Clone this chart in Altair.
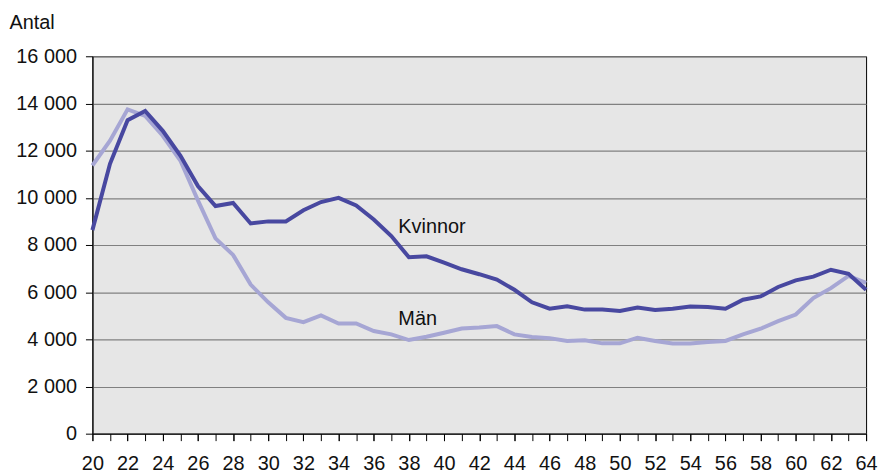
import altair as alt
import pandas as pd

ages = list(range(20, 65))
kvinnor = [8630, 11440, 13290, 13680, 12840, 11790, 10500, 9650, 9780, 8910,
           9000, 9000, 9470, 9820, 10000, 9680, 9080, 8380, 7480, 7520,
           7250, 6970, 6760, 6530, 6100, 5570, 5300, 5400, 5260, 5260,
           5200, 5350, 5240, 5300, 5390, 5370, 5300, 5680, 5820, 6220,
           6500, 6660, 6950, 6780, 6100]
man = [11370, 12420, 13750, 13470, 12630, 11580, 9890, 8280, 7580, 6320,
       5570, 4910, 4730, 5010, 4670, 4670, 4350, 4210, 3970, 4110,
       4280, 4460, 4500, 4560, 4210, 4100, 4050, 3930, 3960, 3830,
       3830, 4070, 3930, 3820, 3820, 3890, 3930, 4210, 4450, 4770,
       5050, 5750, 6170, 6690, 6390]

series_names = ["Män", "Kvinnor"]
series_colors = ["#A6A6D4", "#4848A0"]

label_text = ["Kvinnor", "Män"]
label_x = [37.4, 37.4]
label_y = [8500, 4590]

y_ticks = [0, 2000, 4000, 6000, 8000, 10000, 12000, 14000, 16000]
x_labels = list(range(20, 65, 2))
x_ticks = ages

df = pd.DataFrame({
    "age": ages * 2,
    "value": man + kvinnor,
    "serie": ["Män"] * len(ages) + ["Kvinnor"] * len(ages),
    "order": [0] * len(ages) + [1] * len(ages),
})
lab = pd.DataFrame({"text": label_text, "x": label_x, "y": label_y})

FONT = "Liberation Sans"

x_scale = alt.Scale(domain=[20, 64], nice=False, zero=False)
y_scale = alt.Scale(domain=[0, 16000], nice=False)

y_axis = alt.Axis(
    values=y_ticks, title="Antal", titleAngle=0, titleX=-84, titleY=-28,
    titleAlign="left", titleBaseline="alphabetic", titleFontSize=20,
    titleFontWeight="normal", titleFont=FONT, titleColor="#111",
    labelExpr="replace(format(datum.value, ','), ',', ' ')",
    tickSize=7, tickColor="#000", domainColor="#000",
    labelPadding=9, labelFontSize=20, labelFont=FONT, labelColor="#111",
    gridColor="#808080", gridWidth=1.2)

lines = alt.Chart(df).mark_line(strokeWidth=4, strokeJoin="miter").encode(
    x=alt.X("age:Q", scale=x_scale, axis=alt.Axis(
        values=x_labels, title=None, grid=False, orient="bottom",
        tickSize=7, tickColor="#000", domainColor="#000",
        labelPadding=13, labelFontSize=20, labelFont=FONT, labelColor="#111",
        labelFlush=False, labelOverlap=False)),
    y=alt.Y("value:Q", scale=y_scale, axis=y_axis),
    color=alt.Color("serie:N", scale=alt.Scale(domain=series_names, range=series_colors), legend=None),
    order=alt.Order("order:Q"),
    detail="serie:N",
)

texts = alt.Chart(lab).mark_text(align="left", baseline="alphabetic", fontSize=20, font=FONT, color="#111").encode(
    x=alt.X("x:Q", scale=x_scale, axis=alt.Axis(
        values=x_ticks, title=None, grid=False, orient="bottom", labels=False,
        tickSize=7, tickColor="#000", domain=False)),
    y=alt.Y("y:Q", scale=y_scale, axis=y_axis),
    text="text:N",
)

chart = alt.layer(lines, texts).resolve_axis(x="independent").properties(
    width=779, height=380,
    autosize=alt.AutoSizeParams(type="none"),
    padding={"left": 85, "top": 47, "right": 12, "bottom": 40},
    background="#ffffff",
).configure_view(fill="#E6E6E6", stroke="#000", strokeWidth=1)

chart.save("out.html", embed_options={"renderer": "svg", "actions": False})
